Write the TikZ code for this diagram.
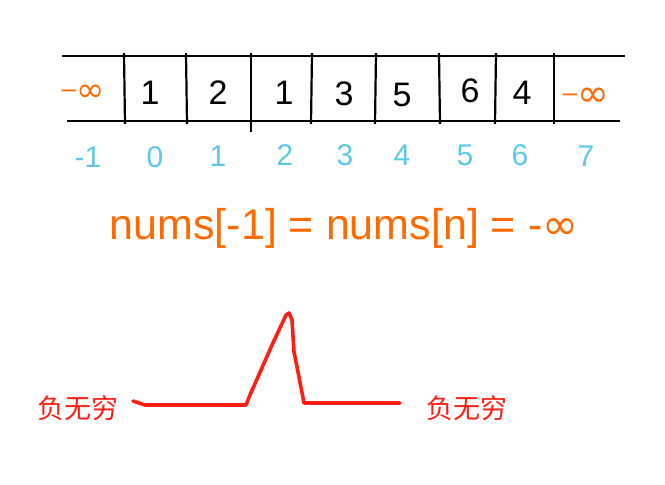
\documentclass[tikz,border=0pt]{standalone}
\usepackage{fontspec}
\setmainfont{Liberation Sans}
\newfontfamily\cjk{Noto Sans CJK SC}
\newfontfamily\sym{DejaVu Sans}
\definecolor{inforange}{HTML}{FF6A00}
\definecolor{idxblue}{HTML}{5CC9E6}
\definecolor{curvered}{HTML}{FF1E14}
\begin{document}
\begin{tikzpicture}[x=1pt,y=-1pt,
  rail/.style={line width=1.6pt,black},
  sep/.style={line width=2.2pt,black},
  cellnum/.style={font=\fontsize{34}{36}\selectfont,black,inner sep=0pt},
  infnum/.style={font=\fontsize{26}{28}\selectfont,text=inforange,inner sep=0pt},
  idx/.style={font=\fontsize{30}{32}\selectfont,text=idxblue,inner sep=0pt},
  formula/.style={font=\fontsize{43}{46}\selectfont,text=inforange,inner sep=0pt},
  cjklabel/.style={font=\cjk\fontsize{27}{29}\selectfont,text=curvered,inner sep=0pt},
  curve/.style={line width=3.6pt,curvered,line join=round,line cap=round}]
\useasboundingbox (0,0) rectangle (665,485);
% rails
\coordinate (tl) at (62,56); \coordinate (tr) at (625,56);
\coordinate (bl) at (67,121); \coordinate (br) at (620,121);
\draw[rail] (tl) -- (tr);
\draw[rail] (bl) -- (br);
% separators
\foreach \n/\xa/\xb in {a/124/125, b/186/187, c/251/251, d/312/311, e/376/375, f/439/440, g/496/495, h/554/554} {
  \coordinate (\n t) at (\xa,53);
  \coordinate (\n b) at (\xb,124);
  \draw[sep] (\n t) -- (\n b);
}
\draw[sep] (251,121) -- (251,132);
% cell values
\node[infnum] (c0) at (83,93) {\raisebox{4pt}{–}{\sym\fontsize{34}{36}\selectfont ∞}};
\node[cellnum] (c1) at (150,93) {1};
\node[cellnum] (c2) at (218,93) {2};
\node[cellnum] (c3) at (284,93) {1};
\node[cellnum] (c4) at (344,94) {3};
\node[cellnum] (c5) at (402,95) {5};
\node[cellnum] (c6) at (470,91) {6};
\node[cellnum] (c7) at (522,93) {4};
\node[infnum] (c8) at (586,97) {\raisebox{5pt}{–}{\sym\fontsize{38}{40}\selectfont ∞}};
% indices
\node[idx] (i0) at (88,157) {-1};
\node[idx] (i1) at (155,157) {0};
\node[idx] (i2) at (218,156) {1};
\node[idx] (i3) at (285,155) {2};
\node[idx] (i4) at (345,155) {3};
\node[idx] (i5) at (402,155) {4};
\node[idx] (i6) at (465,155) {5};
\node[idx] (i7) at (520,155) {6};
\node[idx] (i8) at (586,156) {7};
% formula
\node[formula] (eq) at (344,228) {nums[-1] = nums[n] = -{\sym ∞}};
% curve
\coordinate (p0) at (133,401);
\coordinate (p1) at (145,405);
\coordinate (p2) at (246,405);
\coordinate (p3) at (250,395);
\coordinate (p4) at (272,345);
\coordinate (p5) at (286,315);
\coordinate (p6) at (289,313);
\coordinate (p7) at (292,320);
\coordinate (p8) at (294,352);
\coordinate (p9) at (298,372);
\coordinate (p10) at (304,403);
\coordinate (p11) at (400,403);
\draw[curve] (p0) -- (p1) -- (p2) -- (p3) -- (p4) -- (p5) -- (p6) -- (p7) -- (p8) -- (p9) -- (p10) -- (p11);
\node[cjklabel] (nl) at (78,408) {负无穷};
\node[cjklabel] (nr) at (467,408) {负无穷};
\end{tikzpicture}
\end{document}
